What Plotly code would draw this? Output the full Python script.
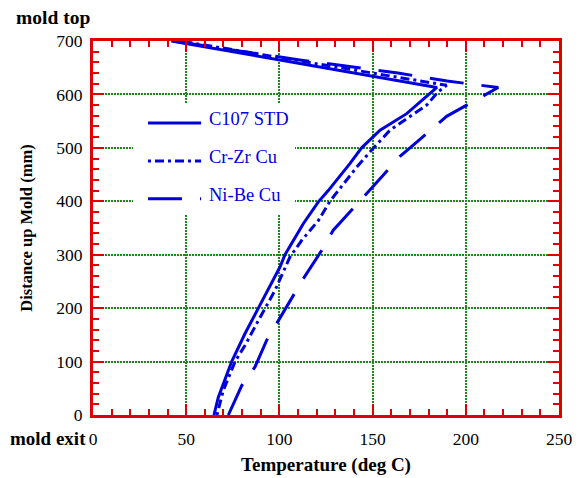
import plotly.graph_objects as go

# ---- data ----
c107_T = [64.9, 67.2, 74.4, 81.5, 88.7, 100.3, 103.0, 112.8, 120.9, 126.2, 137.9, 144.1, 154.0, 168.3, 184.5, 42.0]
c107_Y = [0, 33, 100, 152, 200, 277, 300, 358, 399, 420, 471, 500, 533, 564, 613, 700]

crzr_T = [66.5, 69.9, 76.2, 81.5, 87.8, 92.3, 97.6, 105.7, 112.0, 120.9, 127.1, 141.5, 149.5, 159.3, 168.3, 179.0, 185.2, 189.7, 150.0, 47.0]
crzr_Y = [0, 46, 100, 130, 171, 200, 233, 296, 327, 364, 400, 464, 496, 533, 555, 580, 605, 617, 640, 700]

nibe_T = [72.6, 79.8, 86.9, 93.2, 98.5, 107.5, 112.8, 122.7, 128.9, 141.5, 150.4, 164.7, 175.4, 189.7, 200.5, 217.4, 190.0, 163.6, 110.0, 43.0]
nibe_Y = [0, 55, 90, 140, 171, 224, 255, 308, 346, 394, 428, 484, 516, 559, 580, 613, 625, 640, 665, 700]

series_names = ["C107 STD", "Cr-Zr Cu", "Ni-Be Cu"]
x_ticks = [0, 50, 100, 150, 200, 250]
y_ticks = [0, 100, 200, 300, 400, 500, 600, 700]

BLUE = "#0000dd"
RED = "#e00000"
GREEN = "#1b8a1b"
SERIF = "Liberation Serif, Times New Roman, serif"
dashes = ["solid", "3px,4px,9px,4px", "34px,18px"]

fig = go.Figure()
for T, Y, name, d in zip([c107_T, crzr_T, nibe_T], [c107_Y, crzr_Y, nibe_Y], series_names, dashes):
    fig.add_trace(go.Scatter(x=T, y=Y, mode="lines", name=name,
                             line=dict(color=BLUE, width=3, dash=d),
                             showlegend=False, cliponaxis=True))

axis_common = dict(
    showline=True, linecolor=RED, linewidth=3, mirror="ticks",
    ticks="inside", ticklen=11, tickwidth=2, tickcolor=RED,
    showgrid=True, gridcolor=GREEN, gridwidth=2, griddash="2px,1px",
    zeroline=False, automargin=False,
    tickfont=dict(family=SERIF, size=17.5, color="black"),
)

fig.update_xaxes(range=[0, 250], tickvals=x_ticks, ticktext=[str(v) for v in x_ticks],
                 ticklabelstandoff=6,
                 minor=dict(dtick=10, ticklen=6, tickwidth=2, tickcolor=RED, ticks="inside", showgrid=False),
                 title_text="<b>Temperature (deg C)</b>", title_standoff=10,
                 title_font=dict(family=SERIF, size=19, color="black"), **axis_common)
fig.update_yaxes(range=[0, 700], tickvals=y_ticks, ticktext=[str(v) for v in y_ticks],
                 ticklabelstandoff=4,
                 minor=dict(dtick=20, ticklen=6, tickwidth=2, tickcolor=RED, ticks="inside", showgrid=False),
                 title_text="<b>Distance up Mold (mm)</b>", title_standoff=20,
                 title_font=dict(family=SERIF, size=16.5, color="black"), **axis_common)

# manual legend (white box over grid, sample lines, labels)
shapes = [dict(type="rect", xref="paper", yref="paper", x0=0.0858, x1=0.4335, y0=0.535, y1=0.834,
               fillcolor="white", line=dict(width=0), layer="above")]
ys = [0.781, 0.679, 0.578]
annotations = []
for name, d, yy in zip(series_names, dashes, ys):
    shapes.append(dict(type="line", xref="paper", yref="paper", x0=0.118, x1=0.232, y0=yy, y1=yy,
                       line=dict(color=BLUE, width=3, dash=d), layer="above"))
    annotations.append(dict(xref="paper", yref="paper", x=0.2446, y=yy + 0.011, text=name, showarrow=False,
                            xanchor="left", yanchor="middle",
                            font=dict(family=SERIF, size=18.5, color=BLUE)))

annotations.append(dict(xref="paper", yref="paper", x=-0.17, y=1.03, text="<b>mold top</b>",
                        showarrow=False, xanchor="left", yanchor="bottom",
                        font=dict(family=SERIF, size=19.5, color="black")))
annotations.append(dict(xref="paper", yref="paper", x=-0.01, y=-0.062, text="<b>mold exit</b>",
                        showarrow=False, xanchor="right", yanchor="middle",
                        font=dict(family=SERIF, size=19, color="black")))

fig.update_layout(width=579, height=478, margin=dict(l=93, r=20, t=41, b=63),
                  plot_bgcolor="white", paper_bgcolor="white",
                  shapes=shapes, annotations=annotations, showlegend=False)

fig.write_html("out.html")
